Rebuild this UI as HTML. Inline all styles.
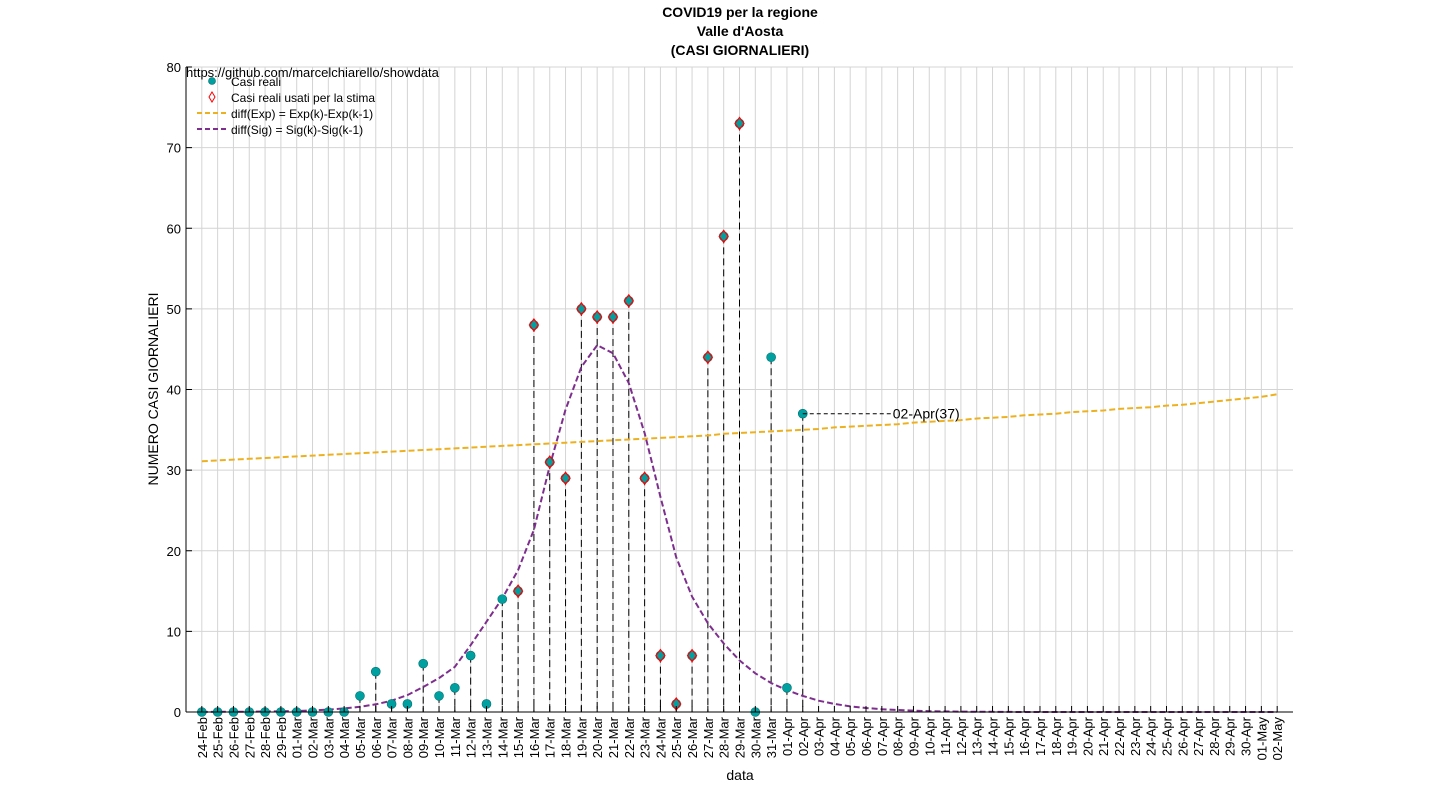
<!DOCTYPE html>
<html><head><meta charset="utf-8"><style>
html,body{margin:0;padding:0;background:#fff;}
svg{display:block;font-family:"Liberation Sans",Arial,sans-serif;}
</style></head><body>
<svg id="chart" width="1430" height="800">
<rect width="1430" height="800" fill="#fff"/>
<g id="grid"></g>
<g id="series"></g>
<g id="axes"></g>
<text x="740" y="17" text-anchor="middle" font-size="14" font-weight="bold">COVID19 per la regione</text>
<text x="740" y="36" text-anchor="middle" font-size="14" font-weight="bold">Valle d'Aosta</text>
<text x="740" y="55" text-anchor="middle" font-size="14" font-weight="bold">(CASI GIORNALIERI)</text>
<text x="740" y="780" text-anchor="middle" font-size="14">data</text>
<text transform="translate(158,389) rotate(-90)" text-anchor="middle" font-size="14">NUMERO CASI GIORNALIERI</text>
<text x="186" y="77" font-size="13">https://github.com/marcelchiarello/showdata</text>
<g>
 <g><circle cx="212" cy="81" r="3.5" fill="#00a0a0" stroke="#006666" stroke-width="0.6"/><text x="231" y="86" font-size="12">Casi reali</text></g>
 <g><path d="M212,92 L215,97 L212,102 L209,97 Z" fill="none" stroke="#ff0000" stroke-width="1"/><text x="231" y="102" font-size="12">Casi reali usati per la stima</text></g>
 <g><line x1="197" y1="113" x2="227" y2="113" stroke="#edb120" stroke-width="2" stroke-dasharray="5,3"/><text x="231" y="118" font-size="12">diff(Exp) = Exp(k)-Exp(k-1)</text></g>
 <g><line x1="197" y1="129" x2="227" y2="129" stroke="#7e2f8e" stroke-width="2" stroke-dasharray="5,3"/><text x="231" y="134" font-size="12">diff(Sig) = Sig(k)-Sig(k-1)</text></g>
</g>
</svg>
<script>
const dates=["24-Feb","25-Feb","26-Feb","27-Feb","28-Feb","29-Feb","01-Mar","02-Mar","03-Mar","04-Mar","05-Mar","06-Mar","07-Mar","08-Mar","09-Mar","10-Mar","11-Mar","12-Mar","13-Mar","14-Mar","15-Mar","16-Mar","17-Mar","18-Mar","19-Mar","20-Mar","21-Mar","22-Mar","23-Mar","24-Mar","25-Mar","26-Mar","27-Mar","28-Mar","29-Mar","30-Mar","31-Mar","01-Apr","02-Apr","03-Apr","04-Apr","05-Apr","06-Apr","07-Apr","08-Apr","09-Apr","10-Apr","11-Apr","12-Apr","13-Apr","14-Apr","15-Apr","16-Apr","17-Apr","18-Apr","19-Apr","20-Apr","21-Apr","22-Apr","23-Apr","24-Apr","25-Apr","26-Apr","27-Apr","28-Apr","29-Apr","30-Apr","01-May","02-May"];
const cases=[0,0,0,0,0,0,0,0,0,0,2,5,1,1,6,2,3,7,1,14,15,48,31,29,50,49,49,51,29,7,1,7,44,59,73,0,44,3,37];
const estStart=20, estEnd=34;
const expFit=[31.1,31.2,31.3,31.4,31.5,31.6,31.7,31.8,31.9,32.0,32.1,32.2,32.3,32.4,32.5,32.6,32.7,32.8,32.9,33.0,33.1,33.2,33.3,33.4,33.5,33.6,33.7,33.8,33.9,34.0,34.1,34.2,34.3,34.5,34.6,34.7,34.8,34.9,35.0,35.1,35.3,35.4,35.5,35.6,35.7,35.9,36.0,36.1,36.2,36.4,36.5,36.6,36.8,36.9,37.0,37.2,37.3,37.4,37.6,37.7,37.8,38.0,38.1,38.3,38.5,38.7,38.9,39.1,39.4];
const sigFit=[0.01,0.02,0.03,0.04,0.06,0.09,0.13,0.2,0.3,0.45,0.65,0.95,1.4,2.1,3.1,4.2,5.6,8.3,11.2,14.1,17.6,22.6,30.5,37.5,42.8,45.5,44.5,40.8,34.6,26.7,19.2,14.3,11,8.5,6.4,4.8,3.6,2.7,2.0,1.4,1.0,0.7,0.5,0.35,0.25,0.17,0.1,0.07,0.05,0.03,0.02,0.01,0,0,0,0,0,0,0,0,0,0,0,0,0,0,0,0,0];
const yTicks=[0,10,20,30,40,50,60,70,80];
const annotation="02-Apr(37)";
const NS="http://www.w3.org/2000/svg";
const L=186,R=1293,T=67,B=712;
const xs=i=>L+(R-L)*(i+1)/(dates.length+1);
const ys=v=>B-(B-T)*v/80;
function mk(tag,attrs,parent){const e=document.createElementNS(NS,tag);for(const k in attrs)e.setAttribute(k,attrs[k]);parent.appendChild(e);return e;}
const grid=document.getElementById('grid'),ser=document.getElementById('series'),ax=document.getElementById('axes');
dates.forEach((d,i)=>{
 const g=mk('line',{x1:xs(i),x2:xs(i),y1:T,y2:B,stroke:'#d4d4d4','stroke-width':1},grid);
 
 
 const tk=mk('line',{x1:xs(i),x2:xs(i),y1:B,y2:B-6,stroke:'#000'},ax);
 
 
 const t=mk('text',{transform:`translate(${xs(i)+5},${B+5}) rotate(-90)`,'text-anchor':'end','font-size':13},ax);
 t.textContent=d;
 
 
});
yTicks.forEach(v=>{
 const g=mk('line',{x1:L,x2:R,y1:ys(v),y2:ys(v),stroke:'#d4d4d4'},grid);
 
 
 const t=mk('text',{x:L-5,y:ys(v)+5,'text-anchor':'end','font-size':13},ax);
 t.textContent=v;
 
 
 const tk=mk('line',{x1:L,x2:L+6,y1:ys(v),y2:ys(v),stroke:'#000'},ax);
 
 
});
const al=mk('line',{x1:L,x2:L,y1:T,y2:B,stroke:'#000'},ax);


const bl=mk('line',{x1:L,x2:R,y1:B,y2:B,stroke:'#000'},ax);


cases.forEach((v,i)=>{
 const s=mk('line',{x1:xs(i),x2:xs(i),y1:ys(v),y2:B,stroke:'#000','stroke-dasharray':'7,4','stroke-width':1},ser);
 
 
});
function curve(arr,color,name){
 const p=mk('path',{d:arr.map((v,i)=>(i?'L':'M')+xs(i).toFixed(1)+','+ys(v).toFixed(1)).join(''),fill:'none',stroke:color,'stroke-width':2,'stroke-dasharray':'6,3'},ser);
 
 
}
curve(expFit,'#edb120','diff-exp-curve');
curve(sigFit,'#7e2f8e','diff-sig-curve');
cases.forEach((v,i)=>{
 const c=mk('circle',{cx:xs(i),cy:ys(v),r:4.5,fill:'#00a0a0',stroke:'#007070','stroke-width':0.6},ser);
 
 
 if(i>=estStart&&i<=estEnd){
  const x=xs(i),y=ys(v);
  const d=mk('path',{d:`M${x},${y-6}L${x+4.5},${y}L${x},${y+6}L${x-4.5},${y}Z`,fill:'none',stroke:'#ff0000','stroke-width':1.2},ser);
  
  
 }
});
const li=cases.length-1;
const an=mk('line',{x1:xs(li),x2:xs(li)+88,y1:ys(cases[li]),y2:ys(cases[li]),stroke:'#000','stroke-dasharray':'4,3'},ser);


const at=mk('text',{x:xs(li)+90,y:ys(cases[li])+5,'font-size':14},ser);
at.textContent=annotation;


</script>
</body></html>
